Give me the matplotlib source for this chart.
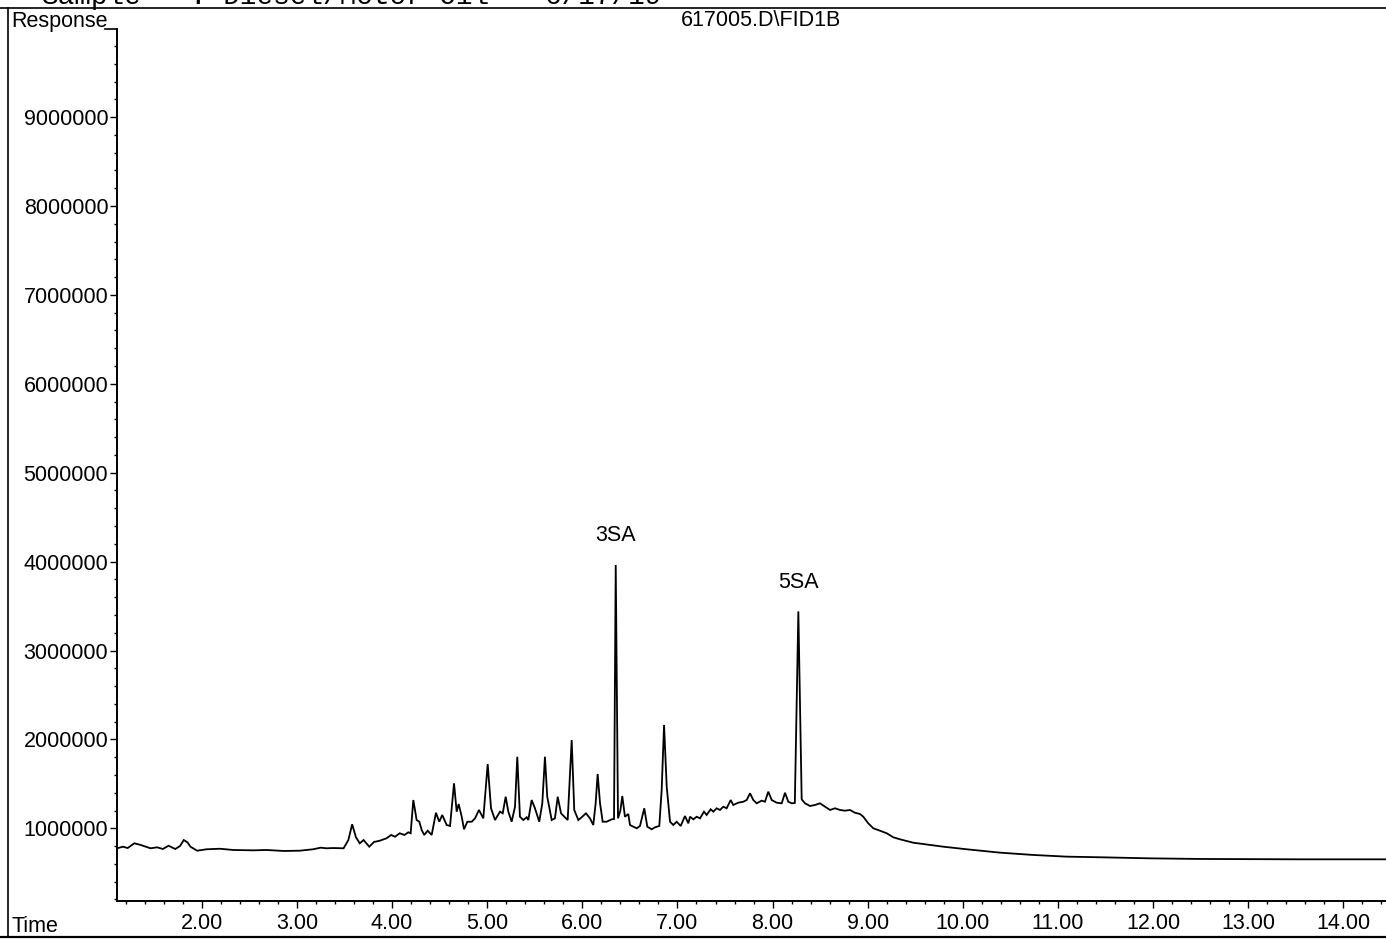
import matplotlib
matplotlib.use("Agg")
import matplotlib.pyplot as plt
from matplotlib.lines import Line2D
from matplotlib.ticker import MultipleLocator

plt.rcParams['font.family'] = ['Liberation Sans', 'DejaVu Sans']

# FID trace: retention time (min) and detector response (thousands)
time_min = [
    1.11, 1.17, 1.22, 1.29, 1.35, 1.46, 1.53, 1.59, 1.65, 1.72, 1.77, 1.81, 1.85, 1.88,
    1.95, 2.05, 2.19, 2.33, 2.54, 2.68, 2.86, 3.03, 3.17, 3.25, 3.31, 3.38, 3.49, 3.54,
    3.58, 3.62, 3.66, 3.70, 3.76, 3.81, 3.87, 3.94, 3.99, 4.03, 4.08, 4.13, 4.17, 4.195,
    4.223, 4.258, 4.286, 4.311, 4.338, 4.374, 4.416, 4.461, 4.496, 4.527, 4.574, 4.609,
    4.651, 4.679, 4.700, 4.732, 4.756, 4.791, 4.837, 4.872, 4.913, 4.959, 5.005, 5.040,
    5.082, 5.134, 5.163, 5.194, 5.222, 5.257, 5.292, 5.316, 5.344, 5.379, 5.415, 5.432,
    5.467, 5.502, 5.547, 5.579, 5.607, 5.631, 5.678, 5.712, 5.741, 5.776, 5.811, 5.846,
    5.888, 5.915, 5.958, 5.993, 6.038, 6.080, 6.115, 6.140, 6.161, 6.186, 6.214, 6.256,
    6.308, 6.333, 6.351, 6.375, 6.400, 6.420, 6.448, 6.483, 6.501, 6.536, 6.572, 6.606,
    6.651, 6.683, 6.729, 6.764, 6.809, 6.834, 6.859, 6.887, 6.922, 6.956, 6.992, 7.034,
    7.079, 7.114, 7.132, 7.167, 7.202, 7.237, 7.279, 7.307, 7.349, 7.377, 7.412, 7.447,
    7.482, 7.517, 7.560, 7.587, 7.639, 7.692, 7.728, 7.763, 7.797, 7.833, 7.885, 7.920,
    7.955, 7.991, 8.043, 8.096, 8.131, 8.165, 8.201, 8.234, 8.271, 8.306, 8.341, 8.393,
    8.446, 8.498, 8.551, 8.604, 8.656, 8.709, 8.761, 8.814, 8.866, 8.919, 8.954, 9.006,
    9.059, 9.129, 9.200, 9.269, 9.340, 9.479, 9.795, 10.040, 10.391, 10.741, 11.092,
    11.442, 11.968, 12.493, 13.545, 14.449,
]
response_k = [
    775, 793, 778, 831, 815, 775, 786, 767, 804, 767, 800, 868, 840, 793,
    748, 764, 770, 756, 752, 756, 745, 748, 764, 782, 775, 778, 775, 868,
    1045, 899, 831, 868, 793, 846, 860, 887, 925, 905, 944, 925, 955, 944,
    1318, 1093, 1074, 981, 925, 973, 925, 1175, 1074, 1150, 1037, 1026,
    1506, 1187, 1273, 1130, 989, 1074, 1074, 1112, 1206, 1112, 1723, 1225,
    1093, 1187, 1169, 1355, 1187, 1074, 1243, 1805, 1130, 1093, 1124, 1093,
    1318, 1225, 1074, 1281, 1805, 1355, 1093, 1112, 1355, 1169, 1130, 1093,
    1993, 1206, 1093, 1124, 1169, 1112, 1037, 1281, 1611, 1281, 1074, 1074,
    1101, 1104, 3962, 1112, 1200, 1363, 1130, 1161, 1037, 1018, 1000, 1026,
    1225, 1018, 989, 1011, 1026, 1431, 2162, 1468, 1074, 1037, 1074, 1026,
    1138, 1056, 1130, 1101, 1130, 1112, 1187, 1150, 1214, 1187, 1225, 1206,
    1243, 1225, 1318, 1262, 1288, 1299, 1318, 1394, 1318, 1281, 1311, 1299,
    1412, 1318, 1288, 1281, 1400, 1299, 1281, 1285, 3440, 1326, 1281, 1251,
    1262, 1281, 1243, 1206, 1225, 1206, 1198, 1206, 1175, 1161, 1130, 1056,
    1000, 973, 944, 899, 876, 838, 793, 764, 726, 700, 681,
    674, 662, 655, 651, 651,
]
response = [v * 1000 for v in response_k]

peak_names = ["3SA", "5SA"]
peak_times = [6.351, 8.271]
peak_heights = [3962000, 3440000]

y_ticks = [1000000, 2000000, 3000000, 4000000, 5000000,
           6000000, 7000000, 8000000, 9000000]
x_ticks = [2.0, 3.0, 4.0, 5.0, 6.0, 7.0, 8.0, 9.0, 10.0, 11.0, 12.0, 13.0, 14.0]

signal_name = "617005.D\\FID1B"
header_sample = "Sample"
header_desc = ": Diesel/Motor Oil"
header_date = "6/17/19"

W, H = 1386, 939
FS = 15.5
fig = plt.figure(figsize=(W / 100, H / 100), dpi=100)
fig.patch.set_facecolor("white")


def fx(px):
    return px / W


def fy(py):
    return 1 - py / H


ax = fig.add_axes([fx(117.3), fy(900.7), 1 - fx(117.3), fy(29.3) - fy(900.7)])
ax.plot(time_min, response, color="black", lw=1.3, solid_joinstyle="miter")
ax.set_xlim(1.111, 14.449)
ax.set_ylim(185500, 9988000)

for side in ("top", "right"):
    ax.spines[side].set_visible(False)
for side in ("left", "bottom"):
    ax.spines[side].set_linewidth(1.4)

ax.set_yticks(y_ticks)
ax.set_yticklabels([str(v) for v in y_ticks])
ax.yaxis.set_minor_locator(MultipleLocator(200000))
ax.set_xticks(x_ticks)
ax.set_xticklabels([f"{t:.2f}" for t in x_ticks])
ax.xaxis.set_minor_locator(MultipleLocator(0.2))
ax.tick_params(which="major", length=5, width=1.0, labelsize=FS, color="black")
ax.tick_params(axis="y", which="major", pad=1.5)
ax.tick_params(axis="x", which="major", pad=3.5)
ax.tick_params(which="minor", length=2.5, width=1.0)

for name, t, h in zip(peak_names, peak_times, peak_heights):
    ax.annotate(name, (t, h), xytext=(0, 21), textcoords="offset points",
                ha="center", va="center", fontsize=FS)

fig.text(fx(760.5), fy(20.5), signal_name, ha="center", va="center", fontsize=FS)
fig.text(fx(11), fy(26.5), "Response", ha="left", va="baseline", fontsize=FS)
fig.text(fx(12), fy(932), "Time", ha="left", va="baseline", fontsize=FS)

# report header, cut by the page edge
mono = dict(family="Liberation Mono", fontsize=20, va="baseline", ha="left")
fig.text(fx(42), fy(4), header_sample, **mono)
fig.text(fx(190), fy(4), header_desc, **mono)
fig.text(fx(545), fy(4), header_date, **mono)

# page frame lines
fig.add_artist(Line2D([fx(105), fx(117.3)], [fy(29.3), fy(29.3)], color="black", lw=1.2))
fig.add_artist(Line2D([fx(8.3), fx(8.3)], [fy(8), fy(937)], color="black", lw=1.2))
fig.add_artist(Line2D([0, 1], [fy(7.5), fy(7.5)], color="black", lw=1.2))
fig.add_artist(Line2D([0, 1], [fy(936.5), fy(936.5)], color="black", lw=1.6))

fig.savefig("out.png", dpi=100, facecolor="white")
